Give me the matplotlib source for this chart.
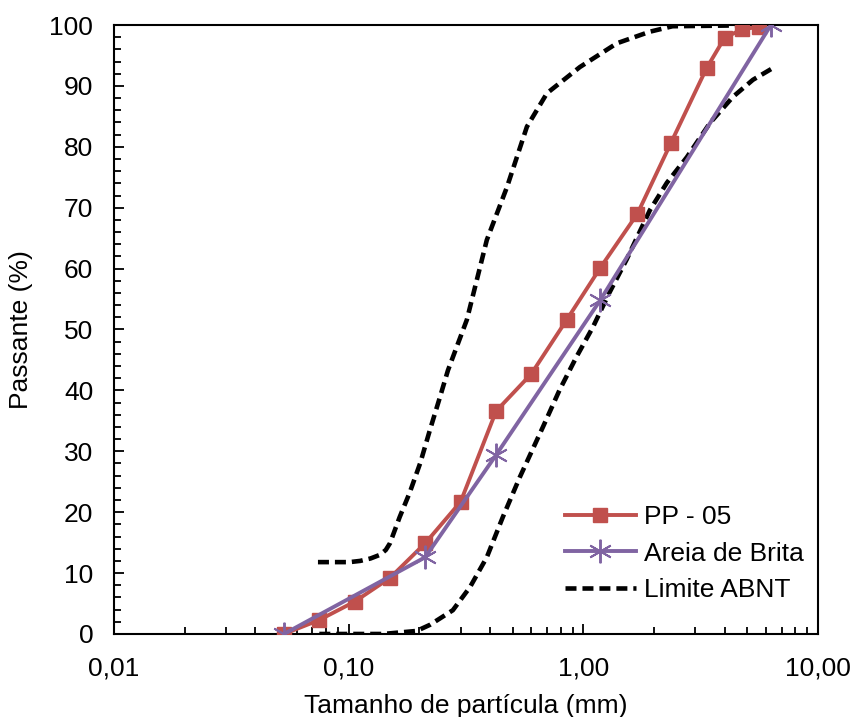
import matplotlib
matplotlib.use("Agg")
import matplotlib.pyplot as plt
from matplotlib.ticker import FixedLocator, FuncFormatter, LogLocator, MultipleLocator

plt.rcParams['font.family'] = ['Liberation Sans', 'DejaVu Sans']

# curva PP - 05 (abertura em mm, % passante)
pp_x = [0.053, 0.075, 0.106, 0.15, 0.212, 0.30, 0.425, 0.60, 0.85, 1.18,
        1.70, 2.36, 3.35, 4.0, 4.75, 5.6]
pp_y = [0.0, 2.3, 5.3, 9.2, 14.9, 21.7, 36.6, 42.7, 51.6, 60.1,
        69.0, 80.6, 92.9, 97.9, 99.3, 99.7]

# curva areia de brita
ab_x = [0.053, 0.212, 0.425, 1.18, 6.3]
ab_y = [0.0, 12.6, 29.4, 54.8, 100.0]

# limites ABNT
lim_sup_x = [0.074, 0.101, 0.112, 0.124, 0.136, 0.144, 0.150, 0.165, 0.182, 0.202, 0.222,
             0.245, 0.265, 0.319, 0.388, 0.473, 0.575, 0.70, 0.967, 1.39,
             1.92, 2.40, 6.3]
lim_sup_y = [11.8, 11.8, 12.0, 12.4, 13.0, 13.8, 14.9, 19.2, 23.2, 28.1, 33.5,
             38.9, 43.3, 51.6, 64.7, 73.4, 83.3, 88.8, 93.1, 97.0,
             98.9, 99.8, 100.0]
lim_inf_x = [0.075, 0.140, 0.195, 0.222, 0.278, 0.329, 0.388, 0.454, 0.537,
             0.673, 0.793, 0.935, 1.099, 1.29, 1.53, 1.922, 2.271,
             2.763, 3.463, 4.34, 5.28, 6.4]
lim_inf_y = [0.0, 0.0, 0.5, 1.5, 3.9, 7.7, 12.6, 19.2, 25.8,
             34.0, 40.1, 45.5, 50.4, 56.0, 61.5, 69.6, 74.1,
             78.3, 83.9, 88.2, 91.0, 92.9]

x_ticks = [0.01, 0.1, 1, 10]
x_labels = ['0,01', '0,10', '1,00', '10,00']

fig = plt.figure(figsize=(8.55, 7.17), dpi=100)
ax = fig.add_axes([0.1333, 0.1158, 0.8234, 0.8493])

dash = (0, (2.4, 1.3))
ax.plot(pp_x, pp_y, color='#C0504D', lw=2.8, marker='s', markersize=10.5,
        label='PP - 05', zorder=3)
ax.plot(ab_x, ab_y, color='#8064A2', lw=2.8, marker=(6, 2, 0), markersize=17,
        markeredgewidth=1.4, label='Areia de Brita', zorder=4)
ax.plot(lim_sup_x, lim_sup_y, color='black', lw=3.3, linestyle=dash,
        label='Limite ABNT', zorder=2)
ax.plot(lim_inf_x, lim_inf_y, color='black', lw=3.3, linestyle=dash, zorder=2)

ax.set_xscale('log')
ax.set_xlim(0.01, 10)
ax.set_ylim(0, 100)
ax.xaxis.set_major_locator(FixedLocator(x_ticks))
ax.xaxis.set_major_formatter(FuncFormatter(lambda v, p: x_labels[x_ticks.index(v)] if v in x_ticks else ''))
ax.xaxis.set_minor_locator(LogLocator(base=10, subs=range(2, 10)))
ax.xaxis.set_minor_formatter(FuncFormatter(lambda v, p: ''))
ax.yaxis.set_major_locator(MultipleLocator(10))
ax.yaxis.set_minor_locator(MultipleLocator(2))

ax.tick_params(which='major', direction='in', length=7, width=1.3, labelsize=19)
ax.tick_params(which='minor', direction='in', length=5, width=1.3)
ax.tick_params(axis='y', which='major', pad=15)
ax.tick_params(axis='x', which='major', pad=16)
for s in ax.spines.values():
    s.set_linewidth(1.5)

ax.set_xlabel('Tamanho de partícula (mm)', fontsize=19, labelpad=10)
ax.set_ylabel('Passante (%)', fontsize=19, labelpad=12)

ax.legend(loc='upper left', bbox_to_anchor=(0.64, 0.212), frameon=False,
          fontsize=19, borderpad=0, borderaxespad=0, handlelength=2.7,
          handletextpad=0.3, labelspacing=0.48)

fig.savefig('out.png', dpi=100)
